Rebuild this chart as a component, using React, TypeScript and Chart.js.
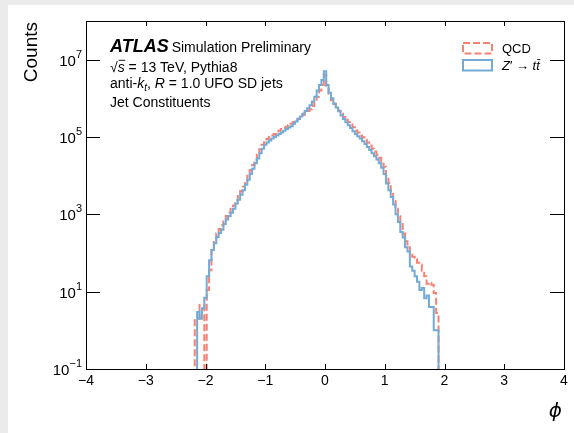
import React, { useEffect, useRef } from 'react';
import { Chart, registerables } from 'chart.js';

Chart.register(...registerables);

// ---- data ----
const BIN_START = -2.18;
const BIN_WIDTH = 0.04;

const qcdCounts = [
  2, 2, 4.5, 4.5, 0, 11, 36, 120, 220, 320,
  420, 520, 700, 910, 1100, 1400, 1700, 2300, 3000, 4000,
  5200, 7200, 1.0e4, 1.4e4, 1.9e4, 2.6e4, 3.5e4, 4.8e4, 6.3e4, 7.9e4,
  8.9e4, 1.0e5, 1.1e5, 1.2e5, 1.3e5, 1.45e5, 1.6e5, 1.7e5, 1.85e5, 2.0e5,
  2.2e5, 2.45e5, 2.7e5, 2.95e5, 3.3e5, 3.7e5, 4.2e5, 4.7e5, 5.2e5, 6.3e5,
  8.3e5, 1.1e6, 1.6e6, 2.2e6, 4.0e6, 1.8e6, 1.2e6, 8.9e5, 7.1e5, 5.8e5,
  4.8e5, 4.0e5, 3.3e5, 2.8e5, 2.4e5, 2.1e5, 1.8e5, 1.5e5, 1.3e5, 1.1e5,
  9.8e4, 8.5e4, 7.2e4, 6.0e4, 5.0e4, 4.2e4, 3.5e4, 2.9e4, 2.3e4, 1.7e4,
  1.0e4, 6600, 4000, 2200, 1400, 890, 560, 320, 200, 140,
  100, 80, 70, 56, 50, 35, 25, 16, 17, 15,
  9.3, 2.8,
];

const zprimeCounts = [
  0, 3, 2, 3.7, 7, 25, 65, 120, 180, 260,
  330, 400, 560, 740, 910, 1100, 1400, 1900, 2400, 3200,
  4200, 5800, 7900, 1.1e4, 1.5e4, 2.1e4, 2.8e4, 3.8e4, 5.0e4, 6.3e4,
  7.2e4, 8.1e4, 9.1e4, 1.0e5, 1.1e5, 1.2e5, 1.3e5, 1.45e5, 1.6e5, 1.75e5,
  1.9e5, 2.2e5, 2.5e5, 2.9e5, 3.4e5, 4.0e5, 4.7e5, 5.5e5, 6.6e5, 8.3e5,
  1.1e6, 1.6e6, 2.2e6, 3.0e6, 5.0e6, 2.2e6, 1.4e6, 1.0e6, 7.4e5, 5.8e5,
  4.6e5, 3.6e5, 2.9e5, 2.4e5, 2.0e5, 1.7e5, 1.4e5, 1.2e5, 1.05e5, 9.1e4,
  7.8e4, 6.6e4, 5.5e4, 4.6e4, 3.8e4, 3.2e4, 2.6e4, 2.1e4, 1.6e4, 1.1e4,
  6300, 4200, 2800, 1800, 1000, 630, 350, 250, 140, 110,
  45, 35, 25, 18, 11, 12.5, 6.8, 8, 4, 4,
  1, 1,
];

const xTickValues = [-4, -3, -2, -1, 0, 1, 2, 3, 4];
const yTickExponents = [-1, 1, 3, 5, 7];

const X_MIN = -4;
const X_MAX = 4;
const Y_MIN = 0.1;
const Y_MAX = 1e8;

const QCD_COLOR = '#fa8072';
const ZP_COLOR = '#74abd6';
const FONT = '"Liberation Sans", Arial, Helvetica, sans-serif';

const W = 574;
const H = 433;

function histPoints(counts: number[]) {
  const FLOOR = 1e-3;
  const pts: { x: number; y: number }[] = [{ x: BIN_START, y: FLOOR }];
  counts.forEach((c, i) => pts.push({ x: BIN_START + i * BIN_WIDTH, y: c > 0 ? c : FLOOR }));
  pts.push({ x: BIN_START + counts.length * BIN_WIDTH, y: FLOOR });
  return pts;
}

type Run = { t: string; style?: string; weight?: string; size?: number; dy?: number; bar?: boolean; family?: string };

function drawRuns(ctx: CanvasRenderingContext2D, x: number, y: number, runs: Run[], baseSize: number) {
  let cx = x;
  for (const r of runs) {
    const size = r.size ?? baseSize;
    ctx.font = `${r.style ?? 'normal'} ${r.weight ?? 'normal'} ${size}px ${r.family ?? FONT}`;
    const yy = y + (r.dy ?? 0);
    ctx.fillText(r.t, cx, yy);
    const w = ctx.measureText(r.t).width;
    if (r.bar) {
      ctx.save();
      ctx.strokeStyle = '#000';
      ctx.lineWidth = 0.9;
      ctx.beginPath();
      const by = yy - size * 0.8;
      ctx.moveTo(cx + 1, by);
      ctx.lineTo(cx + w + 0.5, by);
      ctx.stroke();
      ctx.restore();
    }
    cx += w;
  }
  return cx;
}

const decorPlugin = {
  id: 'decor',
  beforeDraw(chart: any) {
    const ctx: CanvasRenderingContext2D = chart.ctx;
    ctx.save();
    ctx.fillStyle = '#ebebeb';
    ctx.fillRect(0, 0, W, H);
    ctx.fillStyle = '#ffffff';
    ctx.fillRect(8, 5, W - 8, H - 5);
    ctx.restore();
  },
  afterDraw(chart: any) {
    const ctx: CanvasRenderingContext2D = chart.ctx;
    const { left, right, top, bottom } = chart.chartArea;
    const xs = chart.scales.x;
    const ys = chart.scales.y;
    ctx.save();
    // frame
    ctx.strokeStyle = '#000';
    ctx.lineWidth = 1;
    ctx.strokeRect(Math.round(left) + 0.5, Math.round(top) + 0.5, Math.round(right - left), Math.round(bottom - top));

    // x ticks
    ctx.fillStyle = '#000';
    ctx.textAlign = 'center';
    ctx.textBaseline = 'alphabetic';
    ctx.font = `14px ${FONT}`;
    for (const v of xTickValues) {
      const px = Math.round(xs.getPixelForValue(v)) + 0.5;
      ctx.beginPath();
      ctx.moveTo(px, bottom);
      ctx.lineTo(px, bottom - 5);
      ctx.moveTo(px, top);
      ctx.lineTo(px, top + 5);
      ctx.stroke();
      const label = v < 0 ? '\u2212' + Math.abs(v) : String(v);
      ctx.fillText(label, xs.getPixelForValue(v), bottom + 16);
    }

    // y ticks
    for (const e of yTickExponents) {
      const py = Math.round(ys.getPixelForValue(Math.pow(10, e))) + 0.5;
      ctx.beginPath();
      ctx.moveTo(left, py);
      ctx.lineTo(left + 14, py);
      ctx.moveTo(right, py);
      ctx.lineTo(right - 14, py);
      ctx.stroke();
      const expLabel = e < 0 ? '\u2212' + Math.abs(e) : String(e);
      ctx.font = `15px ${FONT}`;
      const w10 = ctx.measureText('10').width;
      ctx.font = `11px ${FONT}`;
      const wE = ctx.measureText(expLabel).width;
      const x0 = left - 4 - w10 - wE;
      ctx.textAlign = 'left';
      ctx.font = `15px ${FONT}`;
      ctx.fillText('10', x0, py + 5);
      ctx.font = `11px ${FONT}`;
      ctx.fillText(expLabel, x0 + w10, py - 3);
    }

    // axis titles
    ctx.save();
    ctx.translate(32, 22);
    ctx.rotate(-Math.PI / 2);
    ctx.textAlign = 'right';
    ctx.textBaseline = 'middle';
    ctx.font = `19px ${FONT}`;
    ctx.fillText('Counts', 0, 0);
    ctx.restore();

    ctx.textAlign = 'right';
    ctx.textBaseline = 'middle';
    ctx.font = `italic 20px "DejaVu Sans", ${FONT}`;
    ctx.fillText('\u03D5', right - 2, 412);

    // ATLAS label
    ctx.textAlign = 'left';
    ctx.textBaseline = 'alphabetic';
    const lx = 110;
    const ax = drawRuns(ctx, lx, 52, [{ t: 'ATLAS', style: 'italic', weight: 'bold', size: 18 }], 14);
    drawRuns(ctx, ax + 3, 52, [{ t: 'Simulation Preliminary' }], 14);
    drawRuns(ctx, lx, 71.5, [
      { t: '\u221A' },
      { t: 's', style: 'italic', bar: true },
      { t: ' = 13 TeV, Pythia8' },
    ], 14);
    drawRuns(ctx, lx, 88, [
      { t: 'anti-' },
      { t: 'k', style: 'italic' },
      { t: 't', style: 'italic', size: 10, dy: 3 },
      { t: ', ' },
      { t: 'R', style: 'italic' },
      { t: ' = 1.0 UFO SD jets' },
    ], 14);
    drawRuns(ctx, lx, 107, [{ t: 'Jet Constituents' }], 14);

    // legend
    const bx = 463;
    const bw = 29;
    ctx.lineWidth = 2;
    ctx.strokeStyle = QCD_COLOR;
    ctx.setLineDash([7, 3]);
    ctx.strokeRect(bx, 43, bw, 10.5);
    ctx.setLineDash([]);
    ctx.strokeStyle = ZP_COLOR;
    ctx.strokeRect(bx, 60, bw, 10.5);
    ctx.fillStyle = '#000';
    drawRuns(ctx, 502, 53, [{ t: 'QCD' }], 13);
    drawRuns(ctx, 502, 70, [
      { t: 'Z', style: 'italic' },
      { t: '\u2032' },
      { t: ' \u2192 ' },
      { t: 't', style: 'italic' },
      { t: 't', style: 'italic', bar: true },
    ], 13);
    ctx.restore();
  },
};

export default function App() {
  const ref = useRef<HTMLCanvasElement | null>(null);
  useEffect(() => {
    if (!ref.current) return;
    const chart = new Chart(ref.current, {
      type: 'line',
      data: {
        datasets: [
          {
            label: "Z' -> tt",
            data: histPoints(zprimeCounts),
            borderColor: ZP_COLOR,
            borderWidth: 2,
            stepped: true,
            fill: false,
            pointRadius: 0,
          },
          {
            label: 'QCD',
            data: histPoints(qcdCounts),
            borderColor: QCD_COLOR,
            borderWidth: 2,
            borderDash: [7, 3],
            stepped: true,
            fill: false,
            pointRadius: 0,
          },
        ],
      },
      options: {
        responsive: false,
        animation: false,
        layout: { padding: { left: 86, right: 10, top: 21, bottom: 64 } },
        scales: {
          x: { type: 'linear', min: X_MIN, max: X_MAX, display: false },
          y: { type: 'logarithmic', min: Y_MIN, max: Y_MAX, display: false },
        },
        plugins: { legend: { display: false }, tooltip: { enabled: false } },
        events: [],
      },
      plugins: [decorPlugin],
    } as any);
    return () => chart.destroy();
  }, []);
  return (
    <div style={{ position: 'fixed', left: 0, top: 0, width: W, height: H }}>
      <canvas ref={ref} width={W} height={H} style={{ width: W, height: H, display: 'block' }} />
    </div>
  );
}
